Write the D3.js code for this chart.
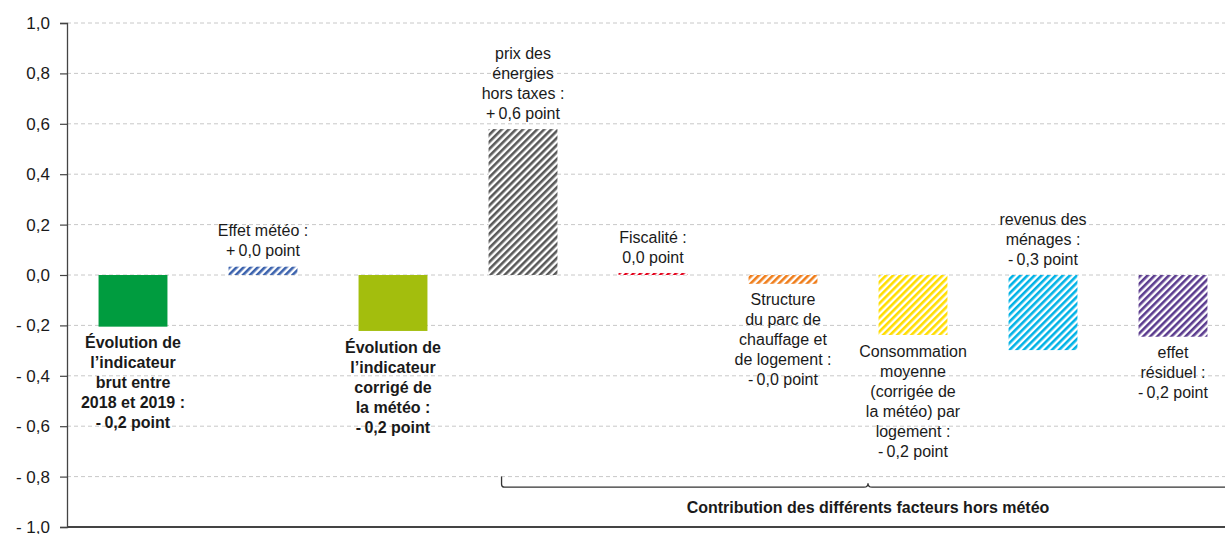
<!DOCTYPE html>
<html>
<head>
<meta charset="utf-8">
<script src="https://cdn.jsdelivr.net/npm/d3@7"></script>
<style>
  body { margin: 0; background: #fff; }
  svg { display: block; font-family: "Liberation Sans", Arial, sans-serif; }
  .grid line { stroke: #c8c8c8; stroke-dasharray: 4,3; }
  .lbl { font-size: 16px; fill: #1a1a1a; }
  .lbl.bold { font-weight: bold; }
  .tick text { font-size: 17px; fill: #1a1a1a; }
</style>
</head>
<body>
<div id="chart"></div>
<script>
// categories (label lines), values and colours
const categories = ['brut', 'meteo', 'corrige', 'prix', 'fiscalite', 'structure', 'conso', 'revenus', 'residuel'];
const values = [-0.205, 0.033, -0.222, 0.579, 0.008, -0.035, -0.238, -0.298, -0.245];
const colors = ['#009c3f', '#3b62ad', '#a3be0d', '#595959', '#e2001a', '#ef7d1a', '#ffdd00', '#00b2e6', '#5b3b8e'];
const hatched = [false, true, false, true, true, true, true, true, true];
const bold = [true, false, true, false, false, false, false, false, false];
const labelAbove = [false, true, false, true, true, false, false, true, false];
const labels = [
  ['Évolution de', 'l’indicateur', 'brut entre', '2018 et 2019 :', '-\u20090,2 point'],
  ['Effet météo :', '+\u20090,0 point'],
  ['Évolution de', 'l’indicateur', 'corrigé de', 'la météo :', '-\u20090,2 point'],
  ['prix des', 'énergies', 'hors taxes :', '+\u20090,6 point'],
  ['Fiscalité :', '0,0 point'],
  ['Structure', 'du parc de', 'chauffage et', 'de logement :', '-\u20090,0 point'],
  ['Consommation', 'moyenne', '(corrigée de', 'la météo) par', 'logement :', '-\u20090,2 point'],
  ['revenus des', 'ménages :', '-\u20090,3 point'],
  ['effet', 'résiduel :', '-\u20090,2 point']
];
const tickValues = [1, 0.8, 0.6, 0.4, 0.2, 0, -0.2, -0.4, -0.6, -0.8, -1];
const tickLabels = ['1,0', '0,8', '0,6', '0,4', '0,2', '0,0', '- 0,2', '- 0,4', '- 0,6', '- 0,8', '- 1,0'];
const bracketLabel = 'Contribution des différents facteurs hors météo';

const W = 1225, H = 534;
const margin = {top: 23, left: 67, bottom: 7};
const plotH = H - margin.top - margin.bottom;

const svg = d3.select('#chart').append('svg')
  .attr('width', W).attr('height', H);

// hatch patterns
const defs = svg.append('defs');
colors.forEach((c, i) => {
  if (!hatched[i]) return;
  const p = defs.append('pattern')
    .attr('id', 'hatch' + i)
    .attr('patternUnits', 'userSpaceOnUse')
    .attr('width', 5).attr('height', 10)
    .attr('patternTransform', 'rotate(45)');
  p.append('rect').attr('width', 5).attr('height', 10).attr('fill', '#fff');
  p.append('rect').attr('width', 2.6).attr('height', 10).attr('fill', c);
});

let x = d3.scaleBand()
  .domain(categories)
  .range([margin.left + 1, margin.left + 1 + 130 * 9])
  .paddingInner(0.47)
  .paddingOuter(0.235);

let y = d3.scaleLinear()
  .domain([-1, 1])
  .range([margin.top + plotH, margin.top]);

// gridlines
svg.append('g').attr('class', 'grid')
  .selectAll('line')
  .data(tickValues.slice(0, -1))
  .enter().append('line')
  .attr('x1', margin.left).attr('x2', W)
  .attr('y1', d => y(d)).attr('y2', d => y(d));

// y axis
const yAxis = svg.append('g')
  .attr('transform', 'translate(' + margin.left + ',0)')
  .call(d3.axisLeft(y)
    .tickValues(tickValues)
    .tickSize(7)
    .tickPadding(10)
    .tickFormat((d, i) => tickLabels[i]));
yAxis.select('.domain').attr('stroke', '#444').attr('stroke-width', 1.3);
yAxis.selectAll('.tick line').attr('stroke', '#444').attr('stroke-width', 1.2);

// bottom line
svg.append('line')
  .attr('x1', margin.left).attr('x2', W)
  .attr('y1', y(-1)).attr('y2', y(-1))
  .attr('stroke', '#444').attr('stroke-width', 2);

// bars
svg.selectAll('.bar')
  .data(categories)
  .enter().append('rect')
  .attr('class', 'bar')
  .attr('x', d => x(d))
  .attr('width', x.bandwidth())
  .attr('y', (d, i) => y(Math.max(0, values[i])))
  .attr('height', (d, i) => Math.abs(y(values[i]) - y(0)))
  .attr('fill', (d, i) => hatched[i] ? 'url(#hatch' + i + ')' : colors[i]);

// labels
categories.forEach((c, i) => {
  const v = values[i];
  const cx = x(c) + x.bandwidth() / 2;
  const lines = labels[i];
  const t = svg.append('text')
    .attr('class', 'lbl' + (bold[i] ? ' bold' : ''))
    .attr('text-anchor', 'middle');
  lines.forEach((ln, j) => {
    let cy;
    if (labelAbove[i]) cy = y(Math.max(0, v)) - 16 - (lines.length - 1 - j) * 20;
    else cy = y(v) + 16 + j * 20;
    t.append('tspan')
      .attr('x', cx)
      .attr('y', cy)
      .attr('dy', '0.35em')
      .text(ln);
  });
});

// bracket for the non-weather factors
const bx0 = x(categories[3]) + 13;
const bx1 = x(categories[8]) + x.bandwidth() + 27;
const bTop = y(-0.8), bY = y(-0.842);
const bMid = (bx0 + bx1) / 2;
svg.append('path')
  .attr('d', `M${bx0},${bTop} L${bx0},${bY - 3} Q${bx0},${bY} ${bx0 + 3},${bY} L${bMid - 4},${bY} Q${bMid},${bY} ${bMid},${bY - 4} Q${bMid},${bY} ${bMid + 4},${bY} L${bx1},${bY}`)
  .attr('fill', 'none')
  .attr('stroke', '#333')
  .attr('stroke-width', 1.3);

svg.append('text')
  .attr('x', bMid)
  .attr('y', bY + 20)
  .attr('dy', '0.35em')
  .attr('text-anchor', 'middle')
  .style('font-size', '16px')
  .style('font-weight', 'bold')
  .style('fill', '#1a1a1a')
  .text(bracketLabel);
</script>
</body>
</html>
